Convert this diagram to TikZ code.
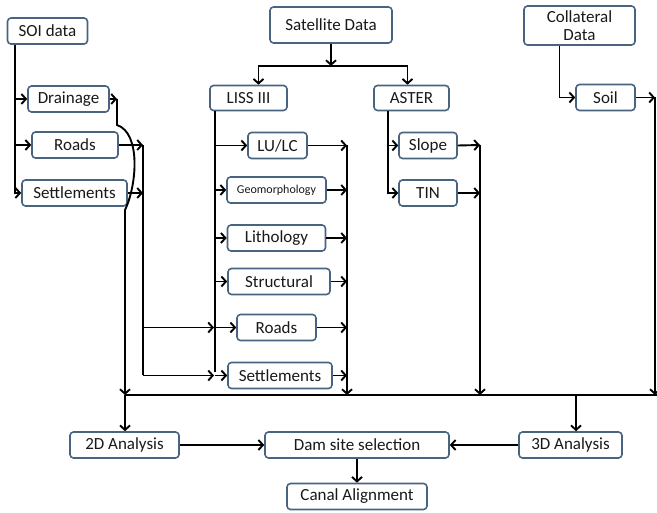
\documentclass[tikz,border=0pt]{standalone}
\usepackage{fontspec}
\setmainfont{Carlito}
\usetikzlibrary{arrows.meta}
\definecolor{boxline}{RGB}{72,100,128}
\begin{document}
\begin{tikzpicture}[
    x = 1pt, y = -1pt,
    box/.style = {draw=boxline, line width=1.6pt, rounded corners=3.5pt, fill=white,
                  minimum height=26pt, inner sep=1pt, text=black!90,
                  font=\fontsize{17}{18}\selectfont},
    ln/.style = {line width=1.9pt},
    arr/.style = {ln, -{Straight Barb[length=4.5pt,width=10pt]}},
  ]
  \useasboundingbox (0,0) rectangle (657,513);
  \node[box, minimum width=80pt] (soi) at (47.5,31) {SOI data};
  \node[box, minimum width=122pt, minimum height=36pt] (sat) at (331,25) {Satellite Data};
  \node[box, minimum width=111pt, minimum height=39pt, align=center, inner sep=0pt] (col) at (579.5,25.5) {Collateral\\Data};
  \node[box, minimum width=81pt] (drain) at (68.5,99) {Drainage};
  \node[box, minimum width=86pt] (roadsL) at (75,145) {Roads};
  \node[box, minimum width=105pt] (settL) at (74.5,193) {Settlements};
  \node[box, minimum width=77pt, minimum height=25pt] (liss) at (248.5,98) {LISS III};
  \node[box, minimum width=75pt, minimum height=25pt] (aster) at (411.5,98) {ASTER};
  \node[box, minimum width=59pt] (soil) at (605.5,97.5) {Soil};
  \node[box, minimum width=59pt] (lulc) at (277.5,145.5) {LU/LC};
  \node[box, minimum width=99pt, font=\fontsize{12}{13}\selectfont] (geo) at (276.5,190) {Geomorphology};
  \node[box, minimum width=98pt] (litho) at (276.5,238) {Lithology};
  \node[box, minimum width=102pt] (struct) at (279,281.5) {Structural};
  \node[box, minimum width=79pt] (roadsM) at (276.5,327.5) {Roads};
  \node[box, minimum width=104pt] (settM) at (280,375.5) {Settlements};
  \node[box, minimum width=58pt] (slope) at (428,145.5) {Slope};
  \node[box, minimum width=58pt] (tin) at (428,193) {TIN};
  \node[box, minimum width=109pt] (ana2) at (124.5,445) {2D Analysis};
  \node[box, minimum width=184pt] (dam) at (357,445) {Dam site selection};
  \node[box, minimum width=103pt] (ana3) at (570.5,445) {3D Analysis};
  \node[box, minimum width=140pt] (canal) at (357,496.5) {Canal Alignment};

  \coordinate (dj) at (117,99);
  \coordinate (rj) at (143,145);
  \coordinate (lv) at (215,111);
  \coordinate (lj) at (347,145);
  \coordinate (av) at (388,111);
  \coordinate (aj) at (480,145);
  \coordinate (sj) at (655,97.5);
  \coordinate (sh) at (331,66);
  \coordinate (busL) at (125,395);
  \coordinate (busR) at (657,395);

  \draw[arr] (soi.south west) ++(8,0) |- (drain.west);
  \draw[arr] (soi.south west) ++(8,0) |- (roadsL.west);
  \draw[arr] (soi.south west) ++(8,0) |- (settL.west);

  \draw[arr] (drain.east) -- (dj);
  \draw[arr] (dj) -- (117,125) .. controls (141,133) and (137,185) .. (125,210) -- (busL);
  \draw[arr] (roadsL.east) -- (rj);
  \draw[arr] (settL.east) -- (settL.east -| rj);
  \draw[ln] (rj) -- (rj |- settM.west);
  \foreach \n in {roadsM, settM}
    \draw[arr] (\n.west -| rj) -- ([xshift=-1pt]\n.west -| lv);

  \draw[arr] (sat.south) -- (sh);
  \draw[arr] (sh) -| ([xshift=10pt]liss.north);
  \draw[arr] (sh) -| ([xshift=-4pt]aster.north);

  \draw[ln] (lv) -- ([yshift=3pt]lv |- settM.west);
  \foreach \n in {lulc, geo, litho, struct, roadsM, settM} {
    \draw[arr] (\n.west -| lv) -- (\n.west);
    \draw[arr] (\n.east) -- (\n.east -| lj);
  }
  \draw[arr] (lj) -- (lj |- busL);

  \draw[arr] (av) |- (slope.west);
  \draw[arr] (av) |- (tin.west);
  \draw[arr] (slope.east) -- (aj);
  \draw[arr] (tin.east) -- (tin.east -| aj);
  \draw[arr] (aj) -- (aj |- busL);

  \draw[arr] ([xshift=-20pt]col.south) |- (soil.west);
  \draw[arr] (soil.east) -- (sj);
  \draw[arr] (sj) -- (sj |- busL);

  \draw[ln] (busL) -- (busR);
  \draw[arr] (busL) -- (busL |- ana2.north);
  \draw[arr] ([xshift=5.5pt]ana3.north |- busL) -- ([xshift=5.5pt]ana3.north);
  \draw[arr] (ana2) -- (dam);
  \draw[arr] (ana3) -- (dam);
  \draw[arr] (dam) -- (canal);
\end{tikzpicture}
\end{document}
